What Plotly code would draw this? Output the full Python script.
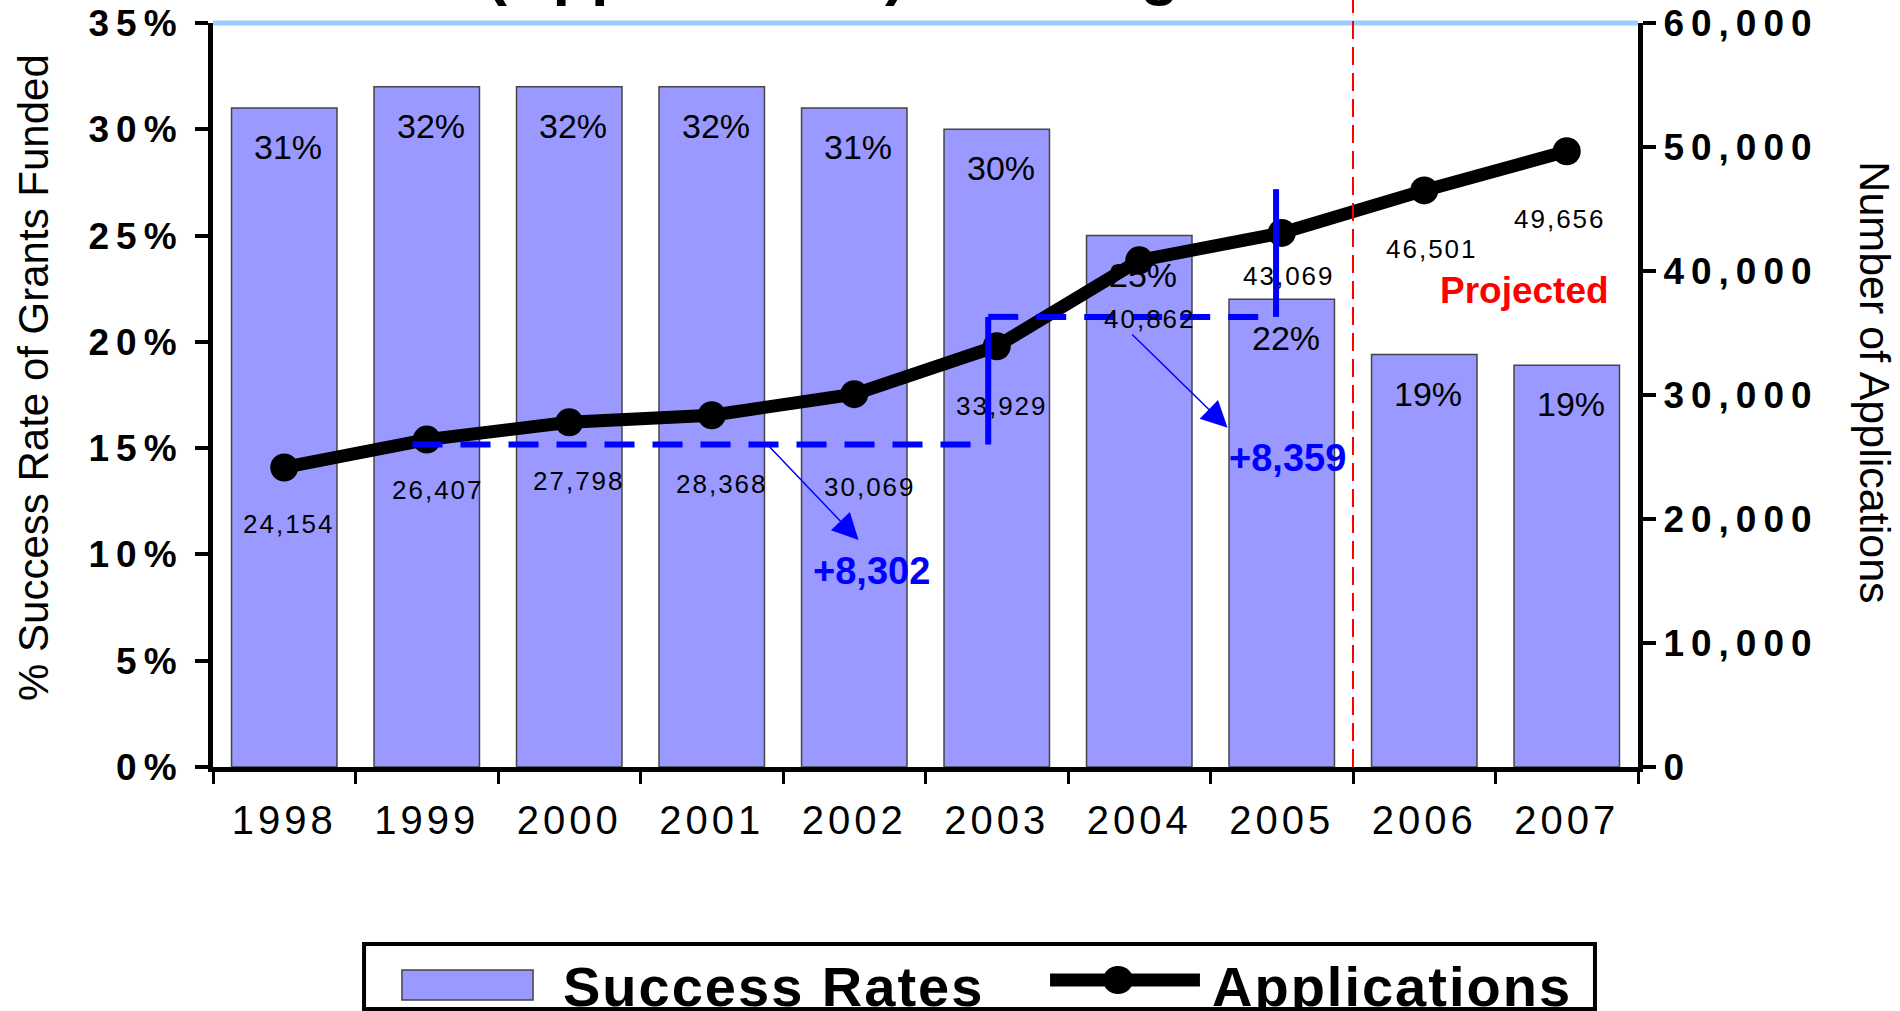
import plotly.graph_objects as go

# ---- data -------------------------------------------------------------
years = ["1998", "1999", "2000", "2001", "2002", "2003", "2004", "2005", "2006", "2007"]
success_rates = [31, 32, 32, 32, 31, 30, 25, 22, 19.4, 18.9]          # % of grants funded
applications = [24154, 26407, 27798, 28368, 30069, 33929, 40862, 43069, 46501, 49656]

rate_ticks = [0, 5, 10, 15, 20, 25, 30, 35]
app_ticks = [0, 10000, 20000, 30000, 40000, 50000, 60000]

increases = [8302, 8359]                  # growth in applications over each span
bracket_levels = [26000, 36300, 46600]    # application levels of the bracket steps
first_projected = "2006"

# pixel nudges for the application count labels (hand placed under each point)
count_label_dx = [5, 11, 10, 10, 16, 5, 11, 7, 8, -7]
count_label_dy = [-40, -33, -42, -52, -76, -43, -42, -26, -42, -51]

FONT = "Liberation Sans, Arial, sans-serif"
BAR_COLOR = "#9999FF"
BLUE = "#0000FF"

fig = go.Figure()

fig.add_trace(go.Bar(
    x=years, y=success_rates, name="Success Rates",
    marker=dict(color=BAR_COLOR, line=dict(color="#444444", width=1.5)),
    hoverinfo="skip",
))

fig.add_trace(go.Scatter(
    x=years, y=applications, name="Applications", yaxis="y2",
    mode="lines+markers",
    line=dict(color="black", width=13),
    marker=dict(color="black", size=28),
    hoverinfo="skip",
))

annotations = []

# percentage labels inside the top of each bar (x given as category index)
for i, v in enumerate(success_rates):
    annotations.append(dict(
        x=i, y=v, xref="x", yref="y", text=f"{v:.0f}%", showarrow=False,
        yanchor="top", yshift=-18, xshift=4,
        font=dict(family=FONT, size=34, color="black"),
    ))

# application counts under each point
for i, v in enumerate(applications):
    annotations.append(dict(
        x=i, y=v, xref="x", yref="y2", text=f"{v:,}", showarrow=False,
        yanchor="top", yshift=count_label_dy[i], xshift=count_label_dx[i],
        font=dict(family=FONT, size=26, color="black"),
    ))

# arrows from the bracket steps to the increase labels
arrow_specs = [
    # (tail x, tail y, head x, head y, label x, label y)
    (3.39, bracket_levels[0], 4.03, 18300, 4.12, 15800),
    (5.94, 35000, 6.62, 27350, 7.04, 24900),
]
for inc, (tx, ty, hx, hy, lx, ly) in zip(increases, arrow_specs):
    annotations.append(dict(
        x=hx, y=hy, xref="x", yref="y2", ax=tx, ay=ty, axref="x", ayref="y2",
        text="", showarrow=True, arrowhead=2, arrowsize=3.5, arrowwidth=1.5,
        arrowcolor=BLUE, standoff=0, startstandoff=0,
    ))
    annotations.append(dict(
        x=lx, y=ly, xref="x", yref="y2", text=f"+{inc:,}", showarrow=False,
        font=dict(family=FONT, size=38, color=BLUE, weight="bold"),
    ))

annotations.append(dict(
    x=8.7, y=38400, xref="x", yref="y2", text="Projected", showarrow=False,
    font=dict(family=FONT, size=37, color="red", weight="bold"),
))

# title line (runs off the top edge)
annotations.append(dict(
    x=0.435, y=1.020, xref="paper", yref="paper", text="(Applications) Growing",
    showarrow=False, xanchor="center", yanchor="bottom",
    font=dict(family=FONT, size=63, color="black", weight="bold"),
))

# axis titles
annotations.append(dict(
    x=-0.1256, y=0.523, xref="paper", yref="paper", text="% Success Rate of Grants Funded",
    showarrow=False, textangle=-90, xanchor="center", yanchor="middle",
    font=dict(family=FONT, size=42, color="black"),
))
annotations.append(dict(
    x=1.1663, y=0.517, xref="paper", yref="paper", text="Number of Applications",
    showarrow=False, textangle=90, xanchor="center", yanchor="middle",
    font=dict(family=FONT, size=43, color="black"),
))

# legend labels
annotations.append(dict(
    x=0.393, y=-0.2944, xref="paper", yref="paper", text="Success Rates",
    showarrow=False, xanchor="center", yanchor="middle",
    font=dict(family=FONT, size=56, color="black", weight="bold"),
))
annotations.append(dict(
    x=0.8277, y=-0.2944, xref="paper", yref="paper", text="Applications",
    showarrow=False, xanchor="center", yanchor="middle",
    font=dict(family=FONT, size=56, color="black", weight="bold"),
))

split = years.index(first_projected) - 0.5
x_start, x_step, x_end = 0.90, 4.94, 6.96

shapes = [
    # light blue top rule
    dict(type="line", xref="paper", yref="paper", x0=0, x1=1, y0=1, y1=1,
         line=dict(color="#99CCFF", width=5), layer="below"),
    # actual / projected split
    dict(type="line", xref="x", yref="paper", x0=split, x1=split, y0=0, y1=1.035,
         line=dict(color="red", width=2, dash="18px,8px"), layer="above"),
    # first bracket: dashed level then step up
    dict(type="line", xref="x", yref="y2", x0=x_start, x1=x_step,
         y0=bracket_levels[0], y1=bracket_levels[0],
         line=dict(color=BLUE, width=6, dash="30px,18px"), layer="above"),
    dict(type="line", xref="x", yref="y2", x0=x_step, x1=x_step,
         y0=bracket_levels[0], y1=bracket_levels[1],
         line=dict(color=BLUE, width=6), layer="above"),
    # second bracket
    dict(type="line", xref="x", yref="y2", x0=x_step, x1=x_end,
         y0=bracket_levels[1], y1=bracket_levels[1],
         line=dict(color=BLUE, width=6, dash="30px,18px"), layer="above"),
    dict(type="line", xref="x", yref="y2", x0=x_end, x1=x_end,
         y0=bracket_levels[1], y1=bracket_levels[2],
         line=dict(color=BLUE, width=6), layer="above"),
    # legend frame
    dict(type="rect", xref="paper", yref="paper", x0=0.106, x1=0.9698, y0=-0.3253, y1=-0.2379,
         line=dict(color="black", width=4), fillcolor="white", layer="above"),
    # legend swatch for bars
    dict(type="rect", xref="paper", yref="paper", x0=0.1326, x1=0.2246, y0=-0.3132, y1=-0.2728,
         line=dict(color="#444444", width=1.5), fillcolor=BAR_COLOR, layer="above"),
    # legend swatch for the line
    dict(type="line", xref="paper", yref="paper", x0=0.5874, x1=0.6926, y0=-0.2863, y1=-0.2863,
         line=dict(color="black", width=13), layer="above"),
    dict(type="circle", xref="paper", yref="paper", xsizemode="pixel", ysizemode="pixel",
         xanchor=0.6351, yanchor=-0.2863, x0=-15, x1=15, y0=-14, y1=14,
         line=dict(color="black", width=0), fillcolor="black", layer="above"),
]

tickfont_bold = dict(family=FONT, size=37, color="black", weight="bold")

fig.update_layout(
    width=1900, height=1011, autosize=False,
    margin=dict(l=213, r=262, t=23, b=244, autoexpand=False),
    paper_bgcolor="white", plot_bgcolor="white",
    showlegend=False, hovermode=False, bargap=0.26,
    xaxis=dict(
        type="category", categoryorder="array", categoryarray=years,
        range=[-0.5, 9.5], showgrid=False, zeroline=False, automargin=False,
        showline=True, linecolor="black", linewidth=5,
        ticks="outside", tickson="boundaries", ticklen=12, tickwidth=3, tickcolor="black",
        tickfont=dict(family=FONT, size=40, color="black"), ticklabelstandoff=14,
    ),
    xaxis2=dict(
        overlaying="x", anchor="y", range=[-0.5, 9.5], tick0=-0.5, dtick=1, automargin=False,
        ticks="inside", ticklen=12, tickwidth=3, tickcolor="black",
        showticklabels=False, showline=False, showgrid=False, zeroline=False,
    ),
    yaxis=dict(
        range=[0, 35], tickvals=rate_ticks, ticktext=[f"{t}%" for t in rate_ticks],
        showgrid=False, zeroline=False, showline=True, linecolor="black", linewidth=5,
        ticks="outside", ticklen=13, tickwidth=4, tickcolor="black", automargin=False,
        tickfont=tickfont_bold, ticklabelstandoff=4,
    ),
    yaxis3=dict(
        overlaying="y", anchor="x", side="left", range=[0, 35], tickvals=rate_ticks,
        ticks="inside", ticklen=13, tickwidth=4, tickcolor="black", automargin=False,
        showticklabels=False, showline=False, showgrid=False, zeroline=False,
    ),
    yaxis2=dict(
        overlaying="y", side="right", anchor="x", range=[0, 60000], tickvals=app_ticks,
        ticktext=[f"{t:,}" for t in app_ticks], automargin=False,
        showgrid=False, zeroline=False, showline=True, linecolor="black", linewidth=5,
        ticks="outside", ticklen=13, tickwidth=4, tickcolor="black",
        tickfont=tickfont_bold, ticklabelstandoff=0,
    ),
    yaxis4=dict(
        overlaying="y", side="right", anchor="x", range=[0, 60000], tickvals=app_ticks,
        ticks="inside", ticklen=13, tickwidth=4, tickcolor="black", automargin=False,
        showticklabels=False, showline=False, showgrid=False, zeroline=False,
    ),
    annotations=annotations,
    shapes=shapes,
)

# widen the character spacing of the axis numbers and some labels
spacing_js = """
var gd = document.getElementById('{plot_id}');
function spaceText() {
  gd.querySelectorAll('g.xtick text').forEach(function (t) { t.style.letterSpacing = '4px'; });
  gd.querySelectorAll('g.ytick text, g.y2tick text').forEach(function (t) { t.style.letterSpacing = '7px'; });
  gd.querySelectorAll('text.annotation-text').forEach(function (t) {
    var s = t.textContent;
    if (/^\\d{2},\\d{3}$/.test(s)) { t.style.letterSpacing = '2px'; }
    else if (s === 'Success Rates' || s === 'Applications') { t.style.letterSpacing = '2px'; }
  });
}
spaceText();
gd.on('plotly_afterplot', spaceText);
"""

fig.write_html("out.html", config={"displayModeBar": False}, post_script=spacing_js)
